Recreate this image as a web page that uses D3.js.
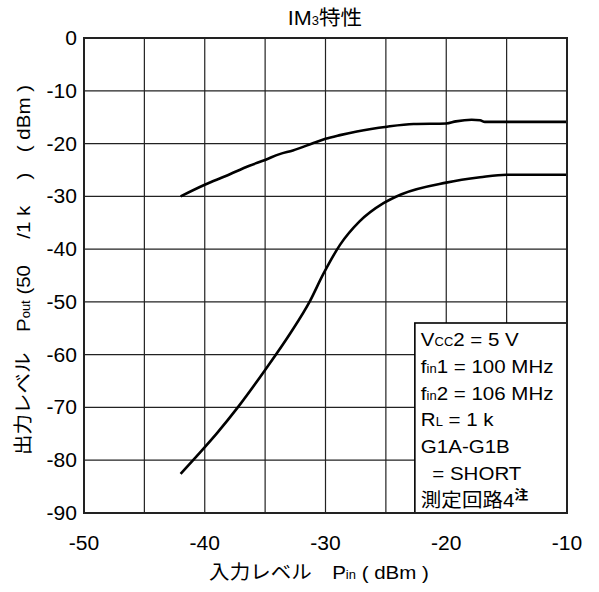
<!DOCTYPE html>
<html>
<head>
<meta charset="utf-8">
<script src="https://cdn.jsdelivr.net/npm/d3@7"></script>
<style>
  body { margin: 0; background: #fff; }
  svg text { font-family: "Liberation Sans", Arial, "Noto Sans CJK JP", sans-serif; fill: #000; }
</style>
</head>
<body>
<svg id="chart" width="599" height="592"></svg>
<script>
// valores
const xTicks = [-50, -40, -30, -20, -10];
const yTicks = [0, -10, -20, -30, -40, -50, -60, -70, -80, -90];
const xGrid = [-45, -40, -35, -30, -25, -20, -15];

// curva superior (Pout fundamental)
const upperPin  = [-42, -40, -38.2, -36.3, -35, -33.8, -32.7, -31, -30, -28.8, -27.4, -24.9, -22.7, -20, -19.2, -17.9, -17.2, -16.8, -10];
const upperPout = [-30, -27.8, -26.1, -24.2, -23.1, -22, -21.3, -19.9, -19.1, -18.4, -17.7, -16.8, -16.3, -16.2, -15.8, -15.5, -15.6, -15.9, -15.9];

// curva inferior (IM3)
const lowerPin  = [-42, -40.7, -39, -37.2, -35, -32.9, -31.3, -30.2, -28.8, -27.2, -25.2, -23.7, -20, -17.2, -15, -10];
const lowerPout = [-82.6, -79.3, -74.9, -69.8, -62.9, -55.9, -49.9, -44.8, -39.2, -34.8, -31.3, -29.6, -27.4, -26.4, -25.9, -25.9];

const MARGINS = { top: 38, left: 84 };
const width = 483;
const height = 475;
const SX = 1.08; // fonte um pouco mais larga que a Arial

const svg = d3.select('#chart');
const g = svg.append('g').attr('transform', `translate(${MARGINS.left},${MARGINS.top})`);

const x = d3.scaleLinear().domain([-50, -10]).range([0, width]);
const y = d3.scaleLinear().domain([-90, 0]).range([height, 0]);

// grade
g.append('g').selectAll('line').data(xGrid).enter().append('line')
  .attr('x1', d => x(d)).attr('x2', d => x(d))
  .attr('y1', 0).attr('y2', height)
  .attr('stroke', '#222').attr('stroke-width', 1.2);

g.append('g').selectAll('line').data(yTicks.slice(1, -1)).enter().append('line')
  .attr('x1', 0).attr('x2', width)
  .attr('y1', d => y(d)).attr('y2', d => y(d))
  .attr('stroke', '#222').attr('stroke-width', 1.2);

// curvas
const line = d3.line()
  .x(d => x(d[0]))
  .y(d => y(d[1]))
  .curve(d3.curveMonotoneX);

const upper = upperPin.map((p, i) => [p, upperPout[i]]);
const lower = lowerPin.map((p, i) => [p, lowerPout[i]]);

g.append('path').datum(upper).attr('d', line)
  .attr('fill', 'none').attr('stroke', '#000').attr('stroke-width', 2.6);
g.append('path').datum(lower).attr('d', line)
  .attr('fill', 'none').attr('stroke', '#000').attr('stroke-width', 2.6);

// caixa de condicoes
const boxX = x(-22.6), boxY = y(-54);
g.append('rect')
  .attr('x', boxX).attr('y', boxY)
  .attr('width', width - boxX).attr('height', height - boxY)
  .attr('fill', '#fff').attr('stroke', '#000').attr('stroke-width', 1.6);

// borda
g.append('rect')
  .attr('x', 0).attr('y', 0).attr('width', width).attr('height', height)
  .attr('fill', 'none').attr('stroke', '#222').attr('stroke-width', 2);

// helper de texto (escala horizontal)
const label = (parent, tx, ty, anchor, size, rot) => parent.append('text')
  .attr('transform', `translate(${tx},${ty})${rot ? ` rotate(${rot})` : ''} scale(${SX},1)`)
  .attr('text-anchor', anchor || 'start')
  .attr('font-size', size || 19);

const sub = (t, s, dy) => t.append('tspan').attr('font-size', 12).attr('dy', dy || 0).text(s);
const txt = (t, s, size) => t.append('tspan').attr('font-size', size || 19).text(s);

// ticks
yTicks.forEach(v => label(g, -7, y(v) + 7, 'end', 19.5).text(`${v}`));
xTicks.forEach(v => label(g, x(v), height + 37, 'middle', 19.5).text(`${v}`));

// titulo
let t = label(svg, 325, 25, 'middle');
txt(t, 'IM', 20); sub(t, '3'); txt(t, '特性', 20);

// eixo x
t = label(svg, 319, 579, 'middle');
txt(t, '入力レベル　P'); sub(t, 'in'); txt(t, ' ( dBm )');

// eixo y
t = label(svg, 30, 270, 'middle', 19, -90);
txt(t, '出力レベル　P'); sub(t, 'out'); txt(t, ' (50　 /1 k　 )　( dBm )');

// texto da caixa
const lx = MARGINS.left + boxX + 6;
const ly0 = MARGINS.top + boxY + 23;
const lh = 26.8;
t = label(svg, lx, ly0); txt(t, 'V'); sub(t, 'CC'); txt(t, '2 = 5 V');
t = label(svg, lx, ly0 + lh); txt(t, 'f'); sub(t, 'in'); txt(t, '1 = 100 MHz');
t = label(svg, lx, ly0 + 2 * lh); txt(t, 'f'); sub(t, 'in'); txt(t, '2 = 106 MHz');
t = label(svg, lx, ly0 + 3 * lh); txt(t, 'R'); sub(t, 'L'); txt(t, ' = 1 k');
t = label(svg, lx, ly0 + 4 * lh); txt(t, 'G1A-G1B');
t = label(svg, lx, ly0 + 5 * lh).attr('xml:space', 'preserve'); txt(t, '  = SHORT');
t = label(svg, lx, ly0 + 6 * lh); txt(t, '測定回路4');
t.append('tspan').attr('font-size', 13).attr('font-weight', 'bold').attr('dy', -8).text('注');
</script>
</body>
</html>
